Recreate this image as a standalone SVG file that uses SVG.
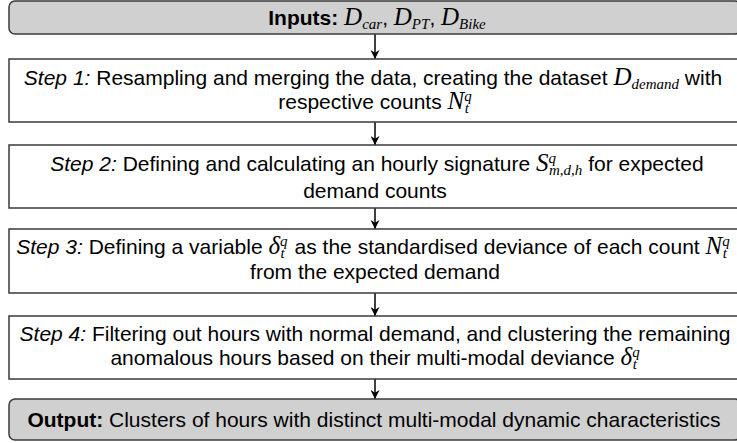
<svg xmlns="http://www.w3.org/2000/svg" width="737" height="443" viewBox="0 0 737 443">
<style>
.term{fill:#d0d0d0;stroke:#3a3a3a;stroke-width:1.5}
.step{fill:#ffffff;stroke:#3a3a3a;stroke-width:1.5}
text{font-family:"Liberation Sans",Arial,sans-serif;font-size:21px;fill:#000;text-anchor:middle}
.m{font-family:"Liberation Serif","Times New Roman",serif;font-style:italic;font-size:25px}
.s{font-size:15px}
.b{font-weight:bold}
.i{font-style:italic}
.c{stroke:#000;stroke-width:1.5;fill:none}
</style>
<defs>
<marker id="ah" viewBox="0 0 10 10" refX="10" refY="5" markerWidth="9" markerHeight="9" markerUnits="userSpaceOnUse" orient="auto">
<path d="M0,0 L10,5 L0,10 L3,5 z" fill="#000"/>
</marker>
</defs>
<g id="connectors">
<line class="c" x1="375" y1="34" x2="375" y2="59" marker-end="url(#ah)"/>
<line class="c" x1="375" y1="122" x2="375" y2="145" marker-end="url(#ah)"/>
<line class="c" x1="375" y1="208" x2="375" y2="229" marker-end="url(#ah)"/>
<line class="c" x1="375" y1="293" x2="375" y2="316" marker-end="url(#ah)"/>
<line class="c" x1="375" y1="379" x2="375" y2="399" marker-end="url(#ah)"/>
</g>
<g id="inputs">
<rect class="term" x="9" y="1" width="732" height="33" rx="6"/>
<text x="377" y="25"><tspan class="b">Inputs:</tspan> <tspan class="m">D</tspan><tspan class="m s" dy="4">car</tspan><tspan dy="-4">, </tspan><tspan class="m">D</tspan><tspan class="m s" dy="4">PT</tspan><tspan dy="-4">, </tspan><tspan class="m">D</tspan><tspan class="m s" dy="4">Bike</tspan></text>
</g>
<g id="step1">
<rect class="step" x="9" y="59" width="732" height="63"/>
<text x="373" y="85"><tspan class="i">Step 1:</tspan> Resampling and merging the data, creating the dataset <tspan class="m">D</tspan><tspan class="m s" dy="4">demand</tspan><tspan dy="-4"> with</tspan></text>
<text x="375" y="109">respective counts <tspan class="m">N</tspan><tspan class="m s" dy="-8">q</tspan><tspan class="m s" dx="-7" dy="12">t</tspan></text>
</g>
<g id="step2">
<rect class="step" x="9" y="145" width="732" height="63"/>
<text x="377" y="171"><tspan class="i">Step 2:</tspan> Defining and calculating an hourly signature <tspan class="m">S</tspan><tspan class="m s" dy="-8">q</tspan><tspan class="m s" dx="-7" dy="12">m,d,h</tspan><tspan dy="-4"> for expected</tspan></text>
<text x="375" y="198">demand counts</text>
</g>
<g id="step3">
<rect class="step" x="9" y="229" width="732" height="64"/>
<text x="373" y="254"><tspan class="i">Step 3:</tspan> Defining a variable <tspan class="m">δ</tspan><tspan class="m s" dy="-8">q</tspan><tspan class="m s" dx="-7" dy="12">t</tspan><tspan dx="4" dy="-4"> as the standardised deviance of each count </tspan><tspan class="m">N</tspan><tspan class="m s" dy="-8">q</tspan><tspan class="m s" dx="-7" dy="12">t</tspan></text>
<text x="375" y="279">from the expected demand</text>
</g>
<g id="step4">
<rect class="step" x="9" y="316" width="732" height="63"/>
<text x="375" y="341"><tspan class="i">Step 4:</tspan> Filtering out hours with normal demand, and clustering the remaining</text>
<text x="375" y="365">anomalous hours based on their multi-modal deviance <tspan class="m">δ</tspan><tspan class="m s" dy="-8">q</tspan><tspan class="m s" dx="-7" dy="12">t</tspan></text>
</g>
<g id="output">
<rect class="term" x="9" y="399" width="732" height="41" rx="6"/>
<text x="374" y="427"><tspan class="b">Output:</tspan> Clusters of hours with distinct multi-modal dynamic characteristics</text>
</g>
</svg>
